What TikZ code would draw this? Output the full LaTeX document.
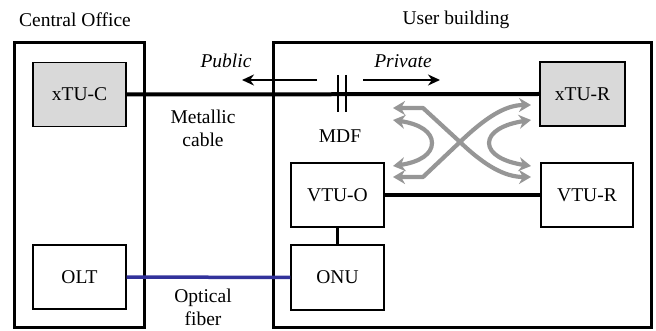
\documentclass[tikz,border=0pt]{standalone}
\usepackage{fontspec}
\setmainfont{Liberation Serif}
\usetikzlibrary{arrows.meta}
\definecolor{boxgray}{RGB}{217,217,217}
\definecolor{arrowgray}{RGB}{150,150,150}
\definecolor{fiberblue}{RGB}{50,50,155}
\begin{document}
\begin{tikzpicture}[x=1pt,y=-1pt,
  every node/.style={font=\fontsize{19.5}{23}\selectfont, inner sep=0pt},
  outerbox/.style={draw=black, line width=3pt},
  unit/.style={draw=black, line width=1.2pt, minimum width=93pt, minimum height=64pt},
  grayunit/.style={unit, fill=boxgray},
  thickwire/.style={line width=4pt},
  thinwire/.style={line width=2.4pt},
  fiber/.style={line width=3.5pt, draw=fiberblue},
  dirarrow/.style={line width=2.2pt, -{Stealth[length=12pt,width=11pt]}},
  xarrow/.style={draw=arrowgray, line width=4.2pt, line join=round,
    {Stealth[length=12pt,width=14pt]}-{Stealth[length=12pt,width=14pt]}},
  mdfline/.style={line width=1.2pt},
  label/.style={align=center}
]
\useasboundingbox (0,0) rectangle (656,331);

% outer enclosures
\draw[outerbox] (14,43) rectangle (144,327);
\draw[outerbox] (273,43) rectangle (651,327);
\node (colabel) at (75,20) {Central Office};
\node (ublabel) at (456,20) {User building};

% units
\node[grayunit] (xtuc) at (79.5,94.5) {xTU-C};
\node[grayunit, minimum width=85pt] (xtur) at (582.5,94) {xTU-R};
\node[unit] (vtuo) at (337.5,195) {VTU-O};
\node[unit, minimum width=92pt] (vtur) at (587,195) {VTU-R};
\node[unit, minimum height=65pt] (onu) at (337.5,277.5) {ONU};
\node[unit] (olt) at (79.5,277) {OLT};

% connections
\draw[thickwire] (xtuc.east) -- (xtur.west);
\draw[line width=3.4pt] (vtuo.east) -- (vtur.west);
\draw[thinwire] (vtuo.south) -- (onu.north);
\draw[fiber] (olt.east) -- (onu.west);

% labels
\node[label] (metal) at (203,128) {Metallic\\cable};
\node[label] (optic) at (203,307) {Optical\\fiber};
\node (mdf) at (340,136) {MDF};
\node (pub) at (226,61) {\itshape Public};
\node (priv) at (403,61) {\itshape Private};

% MDF symbol
\coordinate (m1t) at (338,75); \coordinate (m1b) at (338,112);
\coordinate (m2t) at (346,75); \coordinate (m2b) at (346,112);
\draw[mdfline] (m1t) -- (m1b);
\draw[mdfline] (m2t) -- (m2b);

% public / private arrows
\coordinate (pubs) at (317,80); \coordinate (pube) at (242,80);
\coordinate (prvs) at (363,80); \coordinate (prve) at (440,80);
\draw[dirarrow] (pubs) -- (pube);
\draw[dirarrow] (prvs) -- (prve);

% gray crossover arrows
\coordinate (tl) at (393,108); \coordinate (tlc) at (423,108);
\coordinate (bl) at (393,177); \coordinate (blc) at (423,177);
\coordinate (tr) at (531,105); \coordinate (br) at (531,177);
\coordinate (mid) at (460,142);
\draw[xarrow] (tl) -- (tlc) -- (mid) .. controls (485,166) and (505,177) .. (br);
\draw[xarrow] (bl) -- (blc) -- (mid) .. controls (485,118) and (505,105) .. (tr);
\coordinate (la) at (393,120); \coordinate (lm) at (432,143); \coordinate (lb) at (393,166);
\draw[xarrow] (la) .. controls (420,124) and (432,132) .. (lm) .. controls (432,154) and (420,162) .. (lb);
\coordinate (ra) at (531,120); \coordinate (rm) at (489,143); \coordinate (rb) at (531,166);
\draw[xarrow] (ra) .. controls (504,124) and (489,132) .. (rm) .. controls (489,154) and (504,162) .. (rb);
\end{tikzpicture}
\end{document}
